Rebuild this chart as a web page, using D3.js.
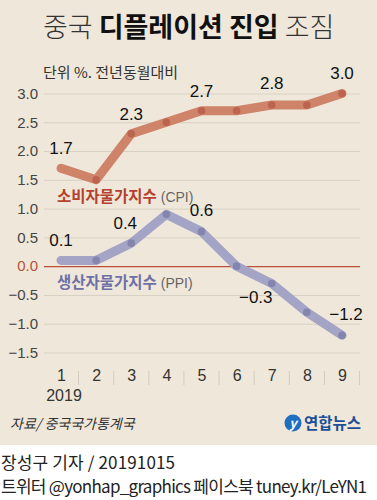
<!DOCTYPE html>
<html>
<head>
<meta charset="utf-8">
<script src="https://cdn.jsdelivr.net/npm/d3@7"></script>
<style>
  body { margin: 0; background: #fff; }
  text { font-family: "Noto Sans CJK KR", "Noto Sans", sans-serif; }
  .num { font-family: "Liberation Sans Narrow", "Liberation Sans", sans-serif; }
</style>
</head>
<body>
<div id="container"></div>
<script>
const width = 377
const height = 500

const months = ['1', '2', '3', '4', '5', '6', '7', '8', '9']
const cpi = [1.7, 1.5, 2.3, 2.5, 2.7, 2.7, 2.8, 2.8, 3.0]
const ppi = [0.1, 0.1, 0.4, 0.9, 0.6, 0.0, -0.3, -0.8, -1.2]
const yTicks = [3.0, 2.5, 2.0, 1.5, 1.0, 0.5, 0.0, -0.5, -1.0, -1.5]

const svg = d3.select('#container')
  .append('svg')
  .attr('width', width)
  .attr('height', height)

svg.append('rect')
  .attr('width', width)
  .attr('height', 445)
  .attr('fill', '#efe8da')

const x = d3.scalePoint()
  .domain(months)
  .range([61, 342])

const y = d3.scaleLinear()
  .domain([-1.5, 3.0])
  .range([352.5, 93.5])

// title
const title = svg.append('text')
  .attr('x', 43)
  .attr('y', 37)
  .attr('font-size', 27)
  .attr('fill', '#333')
title.append('tspan').attr('font-weight', 300).text('중국 ')
title.append('tspan').attr('font-weight', 700).attr('fill', '#111').text('디플레이션 진입')
title.append('tspan').attr('font-weight', 300).text(' 조짐')

svg.append('text')
  .attr('x', 43)
  .attr('y', 78)
  .attr('font-size', 15)
  .attr('fill', '#333')
  .text('단위 %. 전년동월대비')

// grid
const yAxis = d3.axisLeft(y)
  .tickValues(yTicks)
  .tickSize(-(360 - 44))
  .tickFormat(d3.format('.1f'))

const gy = svg.append('g')
  .attr('transform', 'translate(44,0)')
  .call(yAxis)
gy.select('.domain').remove()
gy.selectAll('.tick line')
  .attr('stroke', d => d === 0 ? '#b9503b' : '#d8d1c3')
  .attr('stroke-width', d => d === 0 ? 1.2 : 1)
gy.selectAll('.tick text')
  .attr('class', 'num')
  .attr('x', -6)
  .attr('font-size', 15)
  .attr('fill', d => d === 0 ? '#b9503b' : '#444')
  .text(d => d < 0 ? '\u2212' + d3.format('.1f')(-d) : d3.format('.1f')(d))

// x axis
const xAxis = d3.axisBottom(x).tickSize(0).tickPadding(0)
const gx = svg.append('g')
  .attr('transform', 'translate(0,370)')
  .call(xAxis)
gx.select('.domain').remove()
gx.selectAll('.tick text')
  .attr('class', 'num')
  .attr('font-size', 16)
  .attr('fill', '#333')
  .attr('dy', '0.71em')

const step = x.step()
svg.append('g')
  .selectAll('line')
  .data(months)
  .join('line')
  .attr('x1', d => x(d) + step / 2)
  .attr('x2', d => x(d) + step / 2)
  .attr('y1', 371)
  .attr('y2', 385)
  .attr('stroke', '#d3ccbf')

svg.append('text')
  .attr('class', 'num')
  .attr('x', 64)
  .attr('y', 401)
  .attr('text-anchor', 'middle')
  .attr('font-size', 16)
  .attr('fill', '#333')
  .text('2019')

// lines
const line = d3.line()
  .x((d, i) => x(months[i]))
  .y(d => y(d))

const series = [
  { values: cpi, color: '#cf8369', dot: '#bb6450' },
  { values: ppi, color: '#a3a4c6', dot: '#8385ad' }
]

series.forEach(s => {
  svg.append('path')
    .datum(s.values)
    .attr('d', line)
    .attr('fill', 'none')
    .attr('stroke', s.color)
    .attr('stroke-width', 9)
    .attr('stroke-linecap', 'round')
    .attr('stroke-linejoin', 'round')
  svg.append('g')
    .selectAll('circle')
    .data(s.values.slice(1))
    .join('circle')
    .attr('cx', (d, i) => x(months[i + 1]))
    .attr('cy', d => y(d))
    .attr('r', 3.8)
    .attr('fill', s.dot)
})

// value labels
const fmt = v => v < 0 ? '\u2212' + d3.format('.1f')(-v) : d3.format('.1f')(v)
const cpiOffsets = [[0, -14], null, [0, -14], null, [0, -14], null, [0, -16], null, [0, -15]]
const ppiOffsets = [[0, -14], null, [-6, -14], null, [0, -16], null, [-16, 20], null, [4, -15]]

function valueLabels (values, offsets) {
  svg.append('g')
    .selectAll('text')
    .data(values.map((v, i) => ({ v, i })).filter(d => offsets[d.i]))
    .join('text')
    .attr('class', 'num')
    .attr('x', d => x(months[d.i]) + offsets[d.i][0])
    .attr('y', d => y(d.v) + offsets[d.i][1])
    .attr('text-anchor', 'middle')
    .attr('font-size', 17)
    .attr('fill', '#111')
    .text(d => fmt(d.v))
}
valueLabels(cpi, cpiOffsets)
valueLabels(ppi, ppiOffsets)

// series names
const cpiName = svg.append('text')
  .attr('x', 57)
  .attr('y', 202)
  .attr('font-size', 15.5)
cpiName.append('tspan').attr('fill', '#b6412f').attr('font-weight', 700).text('소비자물가지수')
cpiName.append('tspan').attr('class', 'num').attr('fill', '#666').attr('font-size', 14).text(' (CPI)')

const ppiName = svg.append('text')
  .attr('x', 57)
  .attr('y', 288)
  .attr('font-size', 15.5)
ppiName.append('tspan').attr('fill', '#6f70a6').attr('font-weight', 700).text('생산자물가지수')
ppiName.append('tspan').attr('class', 'num').attr('fill', '#666').attr('font-size', 14).text(' (PPI)')

// source and logo
svg.append('text')
  .attr('x', 10)
  .attr('y', 429)
  .attr('font-size', 14)
  .attr('font-style', 'italic')
  .attr('fill', '#333')
  .text('자료/ 중국국가통계국')

svg.append('circle')
  .attr('cx', 293)
  .attr('cy', 423)
  .attr('r', 8.5)
  .attr('fill', '#1e6fc0')
svg.append('text')
  .attr('x', 293)
  .attr('y', 428)
  .attr('text-anchor', 'middle')
  .attr('font-size', 13)
  .attr('font-style', 'italic')
  .attr('font-weight', 700)
  .attr('fill', '#fff')
  .text('y')
svg.append('text')
  .attr('x', 304)
  .attr('y', 429)
  .attr('font-size', 15.5)
  .attr('font-weight', 700)
  .attr('fill', '#1d4f96')
  .text('연합뉴스')

// footer
svg.append('text')
  .attr('x', 1)
  .attr('y', 469)
  .attr('font-size', 17)
  .attr('fill', '#222')
  .attr('textLength', 174)
  .text('장성구 기자  /  20191015')
svg.append('text')
  .attr('x', 1)
  .attr('y', 493)
  .attr('font-size', 17)
  .attr('fill', '#222')
  .attr('textLength', 366)
  .text('트위터 @yonhap_graphics  페이스북 tuney.kr/LeYN1')
</script>
</body>
</html>
